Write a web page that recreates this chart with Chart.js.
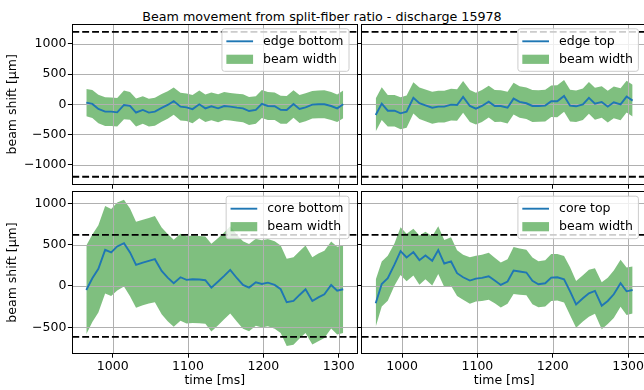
<!DOCTYPE html>
<html><head><meta charset="utf-8">
<script src="https://cdn.jsdelivr.net/npm/chart.js@4/dist/chart.umd.min.js"></script>
<style>
html,body{margin:0;padding:0;width:644px;height:390px;overflow:hidden;background:#fff;}
canvas{position:absolute;left:0;top:0;width:660px;height:390px;}
#title{position:absolute;left:0;width:644px;top:8.5px;text-align:center;font-family:"DejaVu Sans",sans-serif;font-size:12.7px;line-height:normal;color:#000;white-space:nowrap;}
</style></head><body>
<div id="title">Beam movement from split-fiber ratio - discharge 15978</div>
<canvas id="c0" width="660" height="390"></canvas>
<canvas id="c1" width="660" height="390"></canvas>
<canvas id="c2" width="660" height="390"></canvas>
<canvas id="c3" width="660" height="390"></canvas>
<script>
// ---------------- data ----------------
const times = [965, 973, 981, 990, 998, 1006, 1015, 1023, 1031, 1040, 1048, 1056, 1065, 1073, 1081, 1090, 1098, 1106, 1115, 1123, 1131, 1140, 1148, 1156, 1165, 1173, 1181, 1190, 1198, 1206, 1215, 1223, 1231, 1240, 1248, 1256, 1265, 1273, 1281, 1290, 1298, 1306];

const edgeBottom = [28, 6, -78, -122, -122, -133, -11, -25, -136, -94, -138, -122, -60, -11, 53, -39, -50, -80, 0, -67, -33, -67, -28, -39, -56, -67, -111, -94, 6, -28, -33, -90, -94, 6, -78, -50, -6, 0, 0, -28, -67, 0];
const edgeBottomWidth = [225, 232, 235, 238, 236, 236, 238, 230, 232, 228, 230, 232, 230, 228, 226, 230, 228, 232, 230, 228, 230, 232, 230, 228, 230, 232, 230, 228, 232, 230, 228, 232, 230, 228, 230, 232, 228, 230, 232, 230, 228, 230];

const edgeTop = [-178, 11, -106, -106, -150, -122, 106, 17, -17, -56, -39, -39, -6, -11, 122, -28, -72, -28, 44, -28, -28, -56, 94, 39, 17, -28, -28, -22, 50, 50, 139, -22, -33, 0, 106, 11, 39, -39, 33, 0, 128, 61];
const edgeTopWidth = [272, 270, 262, 262, 265, 268, 258, 260, 262, 265, 262, 264, 262, 260, 262, 265, 262, 264, 262, 265, 262, 264, 262, 260, 262, 265, 262, 264, 262, 265, 262, 264, 262, 260, 262, 265, 262, 264, 262, 265, 262, 264];

const coreBottom = [-49, 93, 207, 437, 405, 478, 518, 405, 255, 283, 304, 324, 182, 101, 32, 105, 73, 81, 77, 69, -20, 53, 121, 194, 93, 12, -20, 45, 24, 40, 12, -40, -198, -182, -109, -40, -182, -138, -101, 12, -57, -40];
const coreBottomWidth = [537, 530, 528, 530, 527, 532, 525, 531, 520, 518, 518, 522, 526, 528, 527, 525, 527, 528, 527, 528, 530, 528, 525, 528, 527, 530, 528, 527, 528, 527, 530, 530, 528, 530, 528, 530, 528, 530, 528, 527, 530, 528];

const coreTop = [-210, 24, 93, 260, 421, 344, 409, 312, 368, 304, 433, 271, 296, 154, 105, 65, 89, 97, 117, 65, 12, 53, 186, 174, 162, 61, 20, 32, 101, 105, 81, -65, -223, -150, -89, -61, -239, -182, -101, 32, -65, -49];
const coreTopWidth = [284, 273, 273, 255, 290, 288, 284, 298, 288, 298, 290, 284, 294, 277, 273, 281, 277, 280, 284, 276, 272, 270, 284, 280, 275, 284, 278, 280, 284, 280, 280, 290, 284, 280, 284, 276, 284, 280, 288, 284, 288, 284];

const xTicks = [1000, 1100, 1200, 1300];
const yTicksTop = [-1000, -500, 0, 500, 1000];
const yTicksBottom = [-500, 0, 500, 1000];
const limitsTop = [1200, -1200];
const limitsBottom = [618, -616];
const bandLabel = 'beam width';
const xTitle = 'time [ms]';
const yTitle = 'beam shift [μm]';
const suptitle = 'Beam movement from split-fiber ratio - discharge 15978';

// ---------------- styling / layout ----------------
const FONT = '"DejaVu Sans", sans-serif';
const FS = 12.5;
const CW = 660, CH = 390;
const XMIN = 946.4, XMAX = 1324.7;
const COLS = [{l: 72.3, r: 357.3}, {l: 361.7, r: 646.7}];
const ROWS = [{t: 24.3, b: 184.3, ymin: -1325, ymax: 1325}, {t: 191.7, b: 353.3, ymin: -815, ymax: 1140}];
const TICK = 4.4;

document.getElementById('title').textContent = suptitle;

function pts(xs, ys) { return xs.map((x, i) => ({x: x, y: ys[i]})); }
function fmt(v) { return v < 0 ? '\u2212' + Math.abs(v) : String(v); }

const mplPlugin = {
  id: 'mpl',
  afterDatasetDraw(chart, args) {
    if (args.index !== 1) return;
    const ctx = chart.ctx, a = chart.chartArea;
    const xs = chart.scales.x, ys = chart.scales.y;
    ctx.save();
    ctx.strokeStyle = '#b0b0b0';
    ctx.lineWidth = 1;
    ctx.beginPath();
    chart.options.$xt.forEach(v => {
      const p = Math.round(xs.getPixelForValue(v)) + 0.5;
      ctx.moveTo(p, a.top); ctx.lineTo(p, a.bottom);
    });
    chart.options.$yt.forEach(v => {
      const p = Math.round(ys.getPixelForValue(v)) + 0.5;
      ctx.moveTo(a.left, p); ctx.lineTo(a.right, p);
    });
    ctx.stroke();
    ctx.restore();
  },
  afterDatasetsDraw(chart) {
    const ctx = chart.ctx, a = chart.chartArea, ys = chart.scales.y;
    ctx.save();
    ctx.strokeStyle = '#000';
    ctx.lineWidth = 1.9;
    ctx.setLineDash([6.9, 3]);
    chart.options.$lim.forEach(v => {
      const p = ys.getPixelForValue(v);
      ctx.beginPath(); ctx.moveTo(a.left, p); ctx.lineTo(a.right, p); ctx.stroke();
    });
    ctx.restore();
  },
  afterDraw(chart) {
    const ctx = chart.ctx, a = chart.chartArea;
    const ds = chart.data.datasets;
    ctx.save();
    ctx.font = FS + 'px ' + FONT;
    const tw = Math.max(ctx.measureText(ds[0].label).width, ctx.measureText(ds[1].label).width);
    const padL = 4.4, handle = 26.7, gap = 10, padR = 5.5;
    const w = padL + handle + gap + tw + padR, h = 42.5;
    const right = a.right - 8.3, top = a.top + 4.5, left = right - w;
    const r = 2.5;
    ctx.beginPath();
    ctx.moveTo(left + r, top); ctx.lineTo(right - r, top); ctx.arcTo(right, top, right, top + r, r);
    ctx.lineTo(right, top + h - r); ctx.arcTo(right, top + h, right - r, top + h, r);
    ctx.lineTo(left + r, top + h); ctx.arcTo(left, top + h, left, top + h - r, r);
    ctx.lineTo(left, top + r); ctx.arcTo(left, top, left + r, top, r);
    ctx.closePath();
    ctx.fillStyle = 'rgba(255,255,255,0.8)';
    ctx.fill();
    ctx.strokeStyle = '#cccccc'; ctx.lineWidth = 1; ctx.stroke();
    const r1 = top + 12.5, r2 = top + 30.5;
    ctx.strokeStyle = ds[0].borderColor; ctx.lineWidth = 1.9;
    ctx.beginPath(); ctx.moveTo(left + padL, r1); ctx.lineTo(left + padL + handle, r1); ctx.stroke();
    ctx.fillStyle = ds[1].backgroundColor;
    ctx.fillRect(left + padL, r2 - 4.6, handle, 9.2);
    ctx.fillStyle = '#000'; ctx.textBaseline = 'middle'; ctx.textAlign = 'left';
    ctx.fillText(ds[0].label, left + padL + handle + gap, r1);
    ctx.fillText(ds[1].label, left + padL + handle + gap, r2);
    // spines
    ctx.strokeStyle = '#000'; ctx.lineWidth = 1;
    const L = Math.floor(a.left) + 0.5, R = Math.floor(a.right) + 0.5, T = Math.floor(a.top) + 0.5, B = Math.floor(a.bottom) + 0.5;
    ctx.strokeRect(L, T, R - L, B - T);
    ctx.restore();
  }
};

function makePanel(id, col, row, line, width, label, yTicks, limits) {
  const c = COLS[col], rr = ROWS[row];
  const showX = row === 1, showY = col === 0;
  const yW = showY ? c.l : TICK;
  const xH = showX ? (CH - rr.b) : TICK;
  const upper = line.map((v, i) => v + width[i]);
  const lower = line.map((v, i) => v - width[i]);
  const font = {family: FONT, size: FS};
  new Chart(document.getElementById(id), {
    type: 'line',
    data: {datasets: [
      {label: label, data: pts(times, line), borderColor: '#1f77b4', borderWidth: 1.9, pointRadius: 0, fill: false, order: 0, tension: 0},
      {label: bandLabel, data: pts(times, upper), borderWidth: 0, borderColor: 'rgba(0,0,0,0)', backgroundColor: 'rgba(0,128,0,0.5)', pointRadius: 0, fill: '+1', order: 1, tension: 0},
      {label: '_lower', data: pts(times, lower), borderWidth: 0, borderColor: 'rgba(0,0,0,0)', pointRadius: 0, fill: false, order: 2, tension: 0}
    ]},
    options: {
      $xt: xTicks, $yt: yTicks, $lim: limits,
      responsive: false, animation: false, devicePixelRatio: 1,
      layout: {padding: {left: c.l - yW, right: CW - c.r, top: rr.t, bottom: CH - rr.b - xH}},
      plugins: {legend: {display: false}, tooltip: {enabled: false}, title: {display: false}},
      scales: {
        x: {
          type: 'linear', min: XMIN, max: XMAX,
          afterBuildTicks: s => { s.ticks = xTicks.map(v => ({value: v})); },
          afterFit: s => { s.height = xH; },
          grid: {drawOnChartArea: false, drawTicks: true, tickLength: TICK, tickColor: '#000', tickWidth: 1},
          border: {display: false},
          ticks: {callback: v => showX ? fmt(v) : '', font: font, color: '#000', padding: 1.2, maxRotation: 0, autoSkip: false},
          title: {display: showX, text: xTitle, font: font, color: '#000', padding: {top: 0, bottom: 1.5}}
        },
        y: {
          type: 'linear', min: rr.ymin, max: rr.ymax,
          afterBuildTicks: s => { s.ticks = yTicks.map(v => ({value: v})); },
          afterFit: s => { s.width = yW; },
          grid: {drawOnChartArea: false, drawTicks: true, tickLength: TICK, tickColor: '#000', tickWidth: 1},
          border: {display: false},
          ticks: {callback: v => showY ? fmt(v) : '', font: font, color: '#000', padding: 1.5, autoSkip: false},
          title: {display: showY, text: yTitle, font: font, color: '#000', padding: {top: 4.8, bottom: 0}}
        }
      }
    },
    plugins: [mplPlugin]
  });
}

makePanel('c0', 0, 0, edgeBottom, edgeBottomWidth, 'edge bottom', yTicksTop, limitsTop);
makePanel('c1', 1, 0, edgeTop, edgeTopWidth, 'edge top', yTicksTop, limitsTop);
makePanel('c2', 0, 1, coreBottom, coreBottomWidth, 'core bottom', yTicksBottom, limitsBottom);
makePanel('c3', 1, 1, coreTop, coreTopWidth, 'core top', yTicksBottom, limitsBottom);
</script>
</body></html>
